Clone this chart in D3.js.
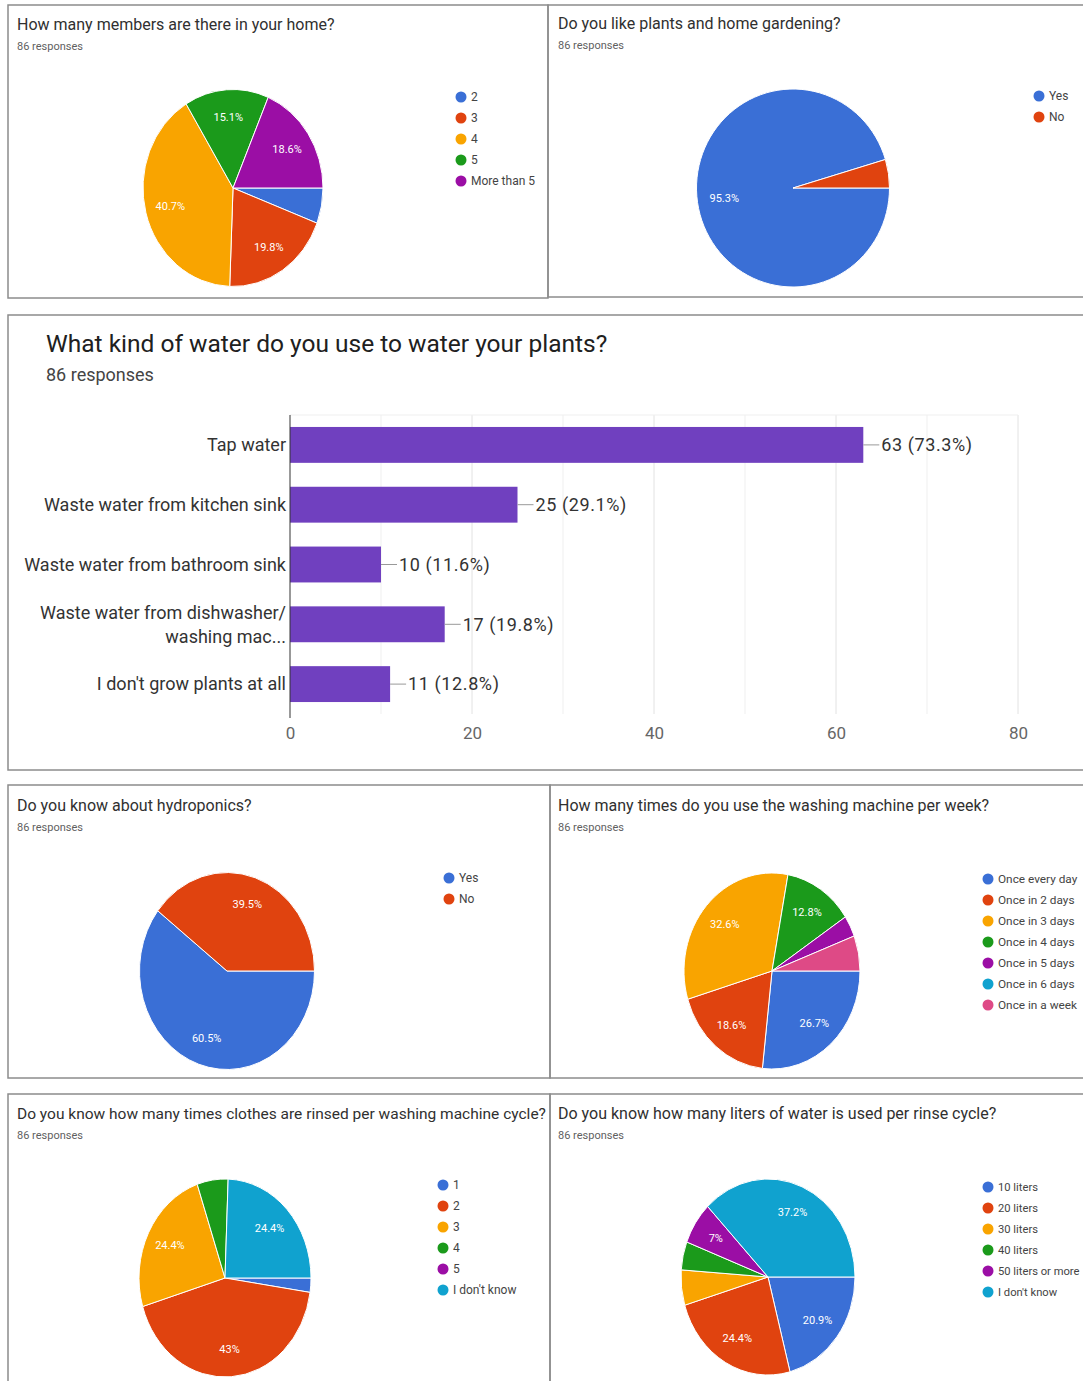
<!DOCTYPE html>
<meta charset="utf-8">
<head>
  <title>Survey responses</title>
  <script src="https://cdnjs.cloudflare.com/ajax/libs/d3/7.8.5/d3.min.js"></script>
</head>
<style>
  body {
    margin: 0;
    background: white;
    font-family: Roboto, "Open Sans", sans-serif;
  }
</style>
<body>
<div id="chart"></div>
<script>
  // data (86 responses each)
  var membersLabels = ["2", "3", "4", "5", "More than 5"];
  var membersCounts = [5, 17, 35, 13, 16];

  var gardenLabels = ["Yes", "No"];
  var gardenCounts = [82, 4];

  var waterCats = ["Tap water", "Waste water from kitchen sink", "Waste water from bathroom sink",
                   "Waste water from dishwasher/\nwashing mac...", "I don't grow plants at all"];
  var waterCounts = [63, 25, 10, 17, 11];
  var waterTicks = [0, 20, 40, 60, 80];

  var hydroLabels = ["Yes", "No"];
  var hydroCounts = [52, 34];

  var washLabels = ["Once every day", "Once in 2 days", "Once in 3 days", "Once in 4 days",
                    "Once in 5 days", "Once in 6 days", "Once in a week"];
  var washCounts = [23, 16, 28, 11, 3, 0, 5];

  var rinseLabels = ["1", "2", "3", "4", "5", "I don't know"];
  var rinseCounts = [2, 37, 21, 5, 0, 21];

  var litersLabels = ["10 liters", "20 liters", "30 liters", "40 liters", "50 liters or more", "I don't know"];
  var litersCounts = [18, 21, 5, 4, 6, 32];

  var TOTAL = 86;
  var colors = ["#3a6fd6", "#e0430f", "#f9a400", "#1b9a1b", "#9b0ea5", "#10a2cf", "#de4a86"];

  var svg = d3.select("#chart").append("svg")
    .attr("width", 1083)
    .attr("height", 1381);

  function pct(n) {
    return +(n / TOTAL * 100).toFixed(1) + "%";
  }

  // panel frames
  var frames = [
    [8, 5, 540, 293], [548, 5, 545, 292],
    [8, 315, 1085, 455],
    [8, 785, 542, 293], [550, 785, 545, 293],
    [8, 1094, 542, 300], [550, 1094, 545, 300]
  ];
  frames.forEach(function(f) {
    svg.append("rect")
      .attr("x", f[0]).attr("y", f[1])
      .attr("width", f[2]).attr("height", f[3])
      .attr("fill", "none")
      .attr("stroke", "#8c8c8c")
      .attr("stroke-width", 1.5);
  });

  function pieChart(opt) {
    var tx = opt.tx, ty = opt.ty;
    svg.append("text")
      .attr("x", tx).attr("y", ty)
      .attr("font-size", opt.titleSize || 16)
      .attr("fill", "#303030")
      .text(opt.title);
    svg.append("text")
      .attr("x", tx).attr("y", ty + 20)
      .attr("font-size", 11)
      .attr("fill", "#5f5f5f")
      .text("86 responses");

    var pie = d3.pie().sort(null)
      .startAngle(Math.PI / 2)
      .endAngle(Math.PI / 2 + 2 * Math.PI);
    var arcs = pie(opt.counts);
    var arc = d3.arc().innerRadius(0).outerRadius(opt.rx);
    var k = opt.ry / opt.rx;

    var g = svg.append("g")
      .attr("transform", "translate(" + opt.cx + "," + opt.cy + ") scale(1," + k + ")");
    g.selectAll("path")
      .data(arcs.filter(function(d) { return d.value > 0; }))
      .enter().append("path")
      .attr("d", arc)
      .attr("fill", function(d) { return colors[d.index]; })
      .attr("stroke", "white")
      .attr("stroke-width", 1)
      .attr("vector-effect", "non-scaling-stroke");

    var labelArc = d3.arc().innerRadius(opt.rx * 0.72).outerRadius(opt.rx * 0.72);
    arcs.forEach(function(d) {
      if (d.value / TOTAL < 0.065) return;
      var c = labelArc.centroid(d);
      svg.append("text")
        .attr("x", opt.cx + c[0])
        .attr("y", opt.cy + c[1] * k)
        .attr("dy", "0.35em")
        .attr("text-anchor", "middle")
        .attr("font-size", 11)
        .attr("fill", "white")
        .text(pct(d.value));
    });

    var leg = svg.append("g");
    opt.labels.forEach(function(l, i) {
      leg.append("circle")
        .attr("cx", opt.lx).attr("cy", opt.ly + i * 21)
        .attr("r", 5.5)
        .attr("fill", colors[i]);
      leg.append("text")
        .attr("x", opt.lx + 10).attr("y", opt.ly + i * 21)
        .attr("dy", "0.35em")
        .attr("font-size", opt.legendSize || 12)
        .attr("fill", "#444")
        .text(l);
    });
  }

  pieChart({ title: "How many members are there in your home?", tx: 17, ty: 30,
    labels: membersLabels, counts: membersCounts, cx: 233, cy: 188, rx: 90, ry: 98.5, lx: 461, ly: 97 });
  pieChart({ title: "Do you like plants and home gardening?", tx: 558, ty: 29,
    labels: gardenLabels, counts: gardenCounts, cx: 793, cy: 188, rx: 96.5, ry: 99, lx: 1039, ly: 96 });
  pieChart({ title: "Do you know about hydroponics?", tx: 17, ty: 811,
    labels: hydroLabels, counts: hydroCounts, cx: 227, cy: 971, rx: 87.5, ry: 98.5, lx: 449, ly: 878 });
  pieChart({ title: "How many times do you use the washing machine per week?", tx: 558, ty: 811,
    labels: washLabels, counts: washCounts, cx: 772, cy: 971, rx: 88, ry: 98, lx: 988, ly: 879, legendSize: 11.8 });
  pieChart({ title: "Do you know how many times clothes are rinsed per washing machine cycle?", tx: 17, ty: 1119,
    titleSize: 15.5, labels: rinseLabels, counts: rinseCounts, cx: 225, cy: 1278, rx: 86, ry: 99, lx: 443, ly: 1185 });
  pieChart({ title: "Do you know how many liters of water is used per rinse cycle?", tx: 558, ty: 1119,
    labels: litersLabels, counts: litersCounts, cx: 768, cy: 1277, rx: 87, ry: 98, lx: 988, ly: 1187, legendSize: 11.2 });

  // bar chart panel
  svg.append("text")
    .attr("x", 46).attr("y", 352)
    .attr("font-size", 24.5)
    .attr("fill", "#202020")
    .text("What kind of water do you use to water your plants?");
  svg.append("text")
    .attr("x", 46).attr("y", 381)
    .attr("font-size", 18)
    .attr("fill", "#444")
    .text("86 responses");

  var x = d3.scaleLinear().domain([0, 80]).range([290, 1018]);
  var y = d3.scaleBand().domain(waterCats).range([415, 714]).paddingInner(0.4).paddingOuter(0.2);

  var grid = svg.append("g");
  grid.selectAll("line.v")
    .data(d3.range(10, 81, 10))
    .enter().append("line")
    .attr("x1", function(d) { return x(d); }).attr("x2", function(d) { return x(d); })
    .attr("y1", 415).attr("y2", 714)
    .attr("stroke", function(d) { return d % 20 == 0 ? "#e2e2e2" : "#efefef"; });
  grid.append("line")
    .attr("x1", x(0)).attr("x2", x(80))
    .attr("y1", 415).attr("y2", 415)
    .attr("stroke", "#efefef");

  svg.selectAll("rect.bar")
    .data(waterCounts)
    .enter().append("rect")
    .attr("class", "bar")
    .attr("x", x(0))
    .attr("y", function(d, i) { return y(waterCats[i]); })
    .attr("width", function(d) { return x(d) - x(0); })
    .attr("height", y.bandwidth())
    .attr("fill", "#7040bf");

  svg.append("line")
    .attr("x1", x(0)).attr("x2", x(0))
    .attr("y1", 415).attr("y2", 718)
    .attr("stroke", "#333").attr("stroke-width", 1);

  // value labels with leader
  waterCounts.forEach(function(d, i) {
    var cy = y(waterCats[i]) + y.bandwidth() / 2;
    svg.append("line")
      .attr("x1", x(d)).attr("x2", x(d) + 16)
      .attr("y1", cy).attr("y2", cy)
      .attr("stroke", "#999");
    svg.append("text")
      .attr("x", x(d) + 18).attr("y", cy)
      .attr("dy", "0.35em")
      .attr("font-size", 18)
      .attr("letter-spacing", 0.6)
      .attr("fill", "#333")
      .text(d + " (" + pct(d) + ")");
  });

  // category labels
  waterCats.forEach(function(c) {
    var lines = c.split("\n");
    var cy = y(c) + y.bandwidth() / 2;
    lines.forEach(function(l, j) {
      svg.append("text")
        .attr("x", 286)
        .attr("y", cy + (j - (lines.length - 1) / 2) * 24)
        .attr("dy", "0.35em")
        .attr("text-anchor", "end")
        .attr("font-size", 18)
        .attr("fill", "#333")
        .text(l);
    });
  });

  var xAxis = svg.append("g")
    .attr("transform", "translate(0,721)")
    .call(d3.axisBottom(x).tickValues(waterTicks).tickSize(0).tickPadding(6));
  xAxis.select(".domain").remove();
  xAxis.selectAll("text")
    .attr("font-size", 17)
    .attr("font-family", "Roboto")
    .attr("fill", "#666");
</script>
</body>
